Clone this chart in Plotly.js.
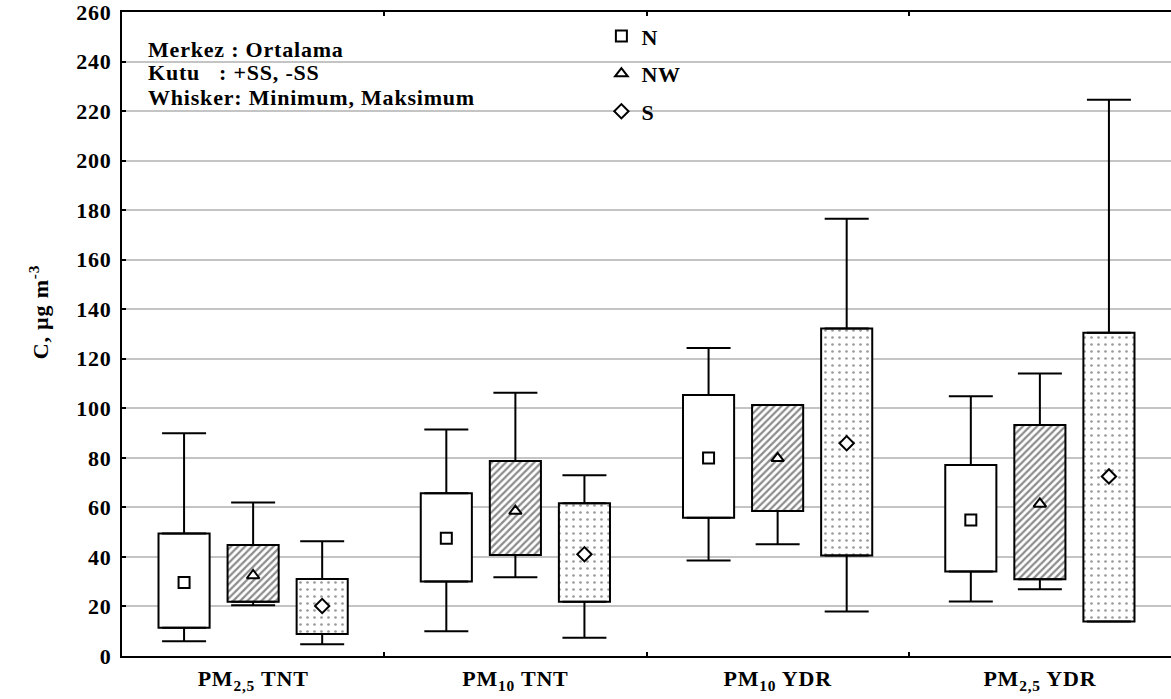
<!DOCTYPE html>
<html>
<head>
<meta charset="utf-8">
<script src="https://cdn.plot.ly/plotly-3.0.1.min.js"></script>
<style>
html,body{margin:0;padding:0;background:#fff;}
#chart{width:1171px;height:699px;}
#chart svg text{letter-spacing:0.8px;}
</style>
</head>
<body>
<div id="chart"></div>
<script>
// Categories (x tick labels)
const categories = ["PM<sub>2,5</sub> TNT", "PM<sub>10</sub> TNT", "PM<sub>10</sub> YDR", "PM<sub>2,5</sub> YDR"];
const seriesNames = ["N", "NW", "S"];

// Values (µg m-3): mean, mean-SD, mean+SD, min, max
const N_mean  = [29.7, 47.5, 79.9, 54.9];
const N_low   = [11.4, 30.1, 55.8, 34.1];
const N_high  = [49.5, 65.7, 105.4, 77.1];
const N_min   = [6.0, 10.0, 38.6, 22.0];
const N_max   = [89.9, 91.4, 124.3, 104.9];

const NW_mean = [32.5, 58.5, 79.8, 61.4];
const NW_low  = [21.9, 40.8, 58.5, 31.0];
const NW_high = [44.8, 78.7, 101.3, 93.3];
const NW_min  = [20.5, 31.8, 45.1, 26.9];
const NW_max  = [62.0, 106.3, 101.3, 114.1];

const S_mean  = [20.2, 41.1, 85.9, 72.5];
const S_low   = [8.9, 21.9, 40.6, 13.9];
const S_high  = [31.1, 61.7, 132.2, 130.5];
const S_min   = [4.7, 7.4, 18.0, 13.9];
const S_max   = [46.3, 73.0, 176.5, 224.6];

// Note lines (top-left text box)
const noteLines = ["Merkez : Ortalama", "Kutu\u00a0\u00a0 : +SS, -SS", "Whisker: Minimum, Maksimum"];
const noteY = [0.9425, 0.9053, 0.868];

const FONT = "Liberation Serif, Times New Roman, serif";
const FS = 22;

const series = [
  {name: "N",  mean: N_mean,  low: N_low,  high: N_high,  min: N_min,  max: N_max,
   symbol: "square", pattern: {shape: ""}},
  {name: "NW", mean: NW_mean, low: NW_low, high: NW_high, min: NW_min, max: NW_max,
   symbol: "triangle-up", pattern: {shape: "/", fgcolor: "#8c8c8c", bgcolor: "#ffffff", size: 5, solidity: 0.45}},
  {name: "S",  mean: S_mean,  low: S_low,  high: S_high,  min: S_min,  max: S_max,
   symbol: "diamond", pattern: {shape: ".", fgcolor: "#9a9a9a", bgcolor: "#ffffff", size: 7, solidity: 0.12}}
];

const traces = [];
series.forEach(s => {
  // box: mean ± SD
  traces.push({
    type: "bar", x: categories, base: s.low,
    y: s.high.map((h, i) => h - s.low[i]),
    offsetgroup: s.name, showlegend: false, hoverinfo: "skip",
    marker: {color: "#ffffff", pattern: s.pattern, line: {color: "#000", width: 2}}
  });
  // upper whisker (max)
  traces.push({
    type: "bar", x: categories, base: s.high, y: s.high.map(() => 0),
    offsetgroup: s.name, showlegend: false, hoverinfo: "skip",
    marker: {color: "rgba(0,0,0,0)", line: {width: 0}},
    error_y: {type: "data", symmetric: false, array: s.max.map((m, i) => m - s.high[i]),
              arrayminus: s.max.map(() => 0), color: "#000", thickness: 2, width: 22}
  });
  // lower whisker (min)
  traces.push({
    type: "bar", x: categories, base: s.low, y: s.low.map(() => 0),
    offsetgroup: s.name, showlegend: false, hoverinfo: "skip",
    marker: {color: "rgba(0,0,0,0)", line: {width: 0}},
    error_y: {type: "data", symmetric: false, array: s.low.map(() => 0),
              arrayminus: s.min.map((m, i) => s.low[i] - m), color: "#000", thickness: 2, width: 22}
  });
});
series.forEach(s => {
  traces.push({
    type: "scatter", mode: "markers", x: categories, y: s.mean, name: s.name,
    offsetgroup: s.name, legendgroup: s.name, hoverinfo: "skip",
    marker: {symbol: s.symbol, size: 11, color: "#ffffff", line: {color: "#000", width: 2}}
  });
});

const W = 1049;
const annotations = noteLines.map((t, i) => ({
  xref: "paper", yref: "paper", x: 0.023, y: noteY[i], xanchor: "left", yanchor: "middle", align: "left",
  showarrow: false, font: {family: FONT, size: FS, weight: "bold"}, text: t
}));
annotations.push({
  xref: "paper", yref: "paper", x: -0.079, y: 0.535, xanchor: "center", yanchor: "middle",
  textangle: -90, showarrow: false, font: {family: FONT, size: FS, weight: "bold"},
  text: "C, µg m<sup>-3</sup>"
});

const layout = {
  width: 1171, height: 699,
  margin: {l: 122, r: 0, t: 12, b: 43},
  paper_bgcolor: "#fff", plot_bgcolor: "#fff",
  font: {family: FONT, size: FS, color: "#000", weight: "bold"},
  barmode: "group", bargap: 0.21, bargroupgap: 0.26,
  scattermode: "group", scattergap: 0.21,
  showlegend: true,
  legend: {x: 0.457, y: 0.995, xanchor: "left", yanchor: "top",
           bgcolor: "rgba(0,0,0,0)", traceorder: "grouped", tracegroupgap: 6,
           font: {family: FONT, size: FS, color: "#000", weight: "bold"}},
  xaxis: {
    type: "category", showline: true, linecolor: "#000", linewidth: 2, mirror: "ticks",
    ticks: "inside", ticklen: 4, tickwidth: 2, tickcolor: "#000", tickson: "boundaries",
    showgrid: false, zeroline: false, ticklabelstandoff: 2, ticklabeloverflow: "allow",
    tickfont: {family: FONT, size: FS, weight: "bold"}
  },
  yaxis: {
    range: [0, 260], dtick: 20, tick0: 0,
    showline: true, linecolor: "#000", linewidth: 2, mirror: false,
    ticks: "inside", ticklen: 4, tickwidth: 2, tickcolor: "#000",
    showgrid: true, gridcolor: "#c4c4c4", gridwidth: 2, zeroline: false,
    ticklabelstandoff: 4, ticklabeloverflow: "allow",
    tickfont: {family: FONT, size: FS, weight: "bold"}
  },
  shapes: [
    {type: "rect", layer: "between", xref: "paper", yref: "y", x0: 0, x1: (565 - 122) / W, y0: 206, y1: 259,
     fillcolor: "#fff", line: {width: 0}},
    {type: "rect", layer: "between", xref: "paper", yref: "y", x0: (577 - 122) / W, x1: (697 - 122) / W, y0: 206, y1: 259,
     fillcolor: "#fff", line: {width: 0}}
  ],
  annotations: annotations
};

Plotly.newPlot("chart", traces, layout, {displayModeBar: false, staticPlot: true});
</script>
</body>
</html>
